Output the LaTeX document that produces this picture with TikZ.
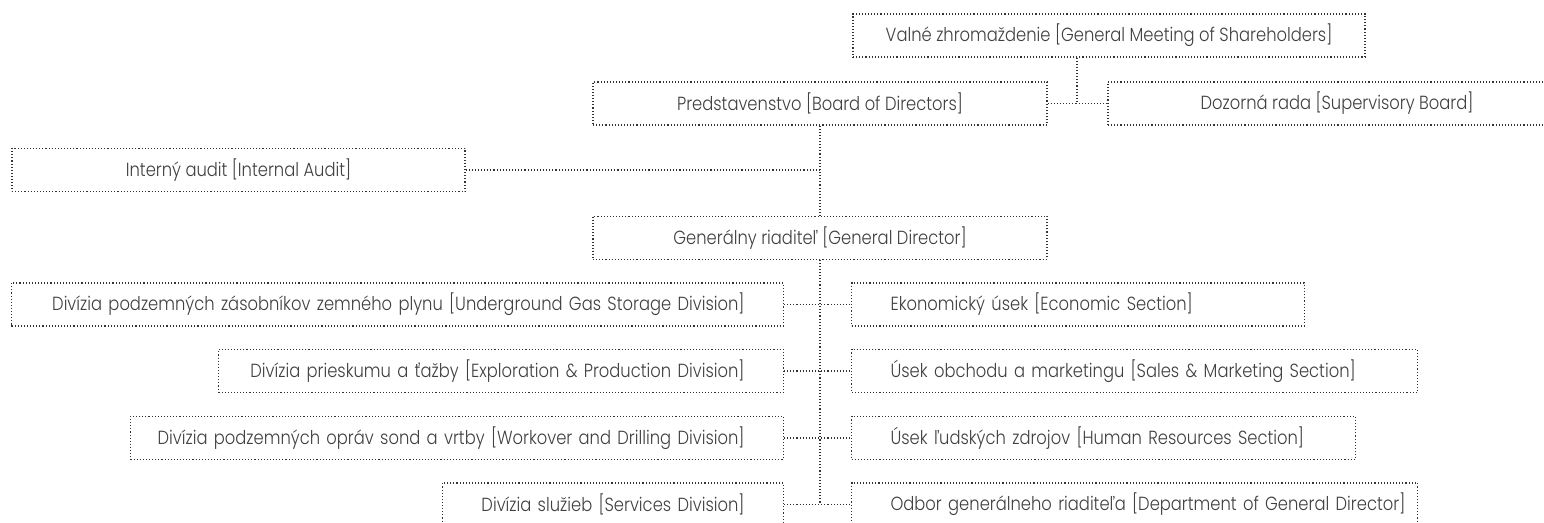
\documentclass[tikz,border=0pt]{standalone}
\usepackage{fontspec}
\setmainfont{Poppins Light}[FakeStretch=0.86]
\usetikzlibrary{positioning}

\begin{document}
\begin{tikzpicture}[
		x=0.5pt, y=-0.5pt,
		font=\fontsize{9.5}{11}\selectfont,
		box/.style={draw=black!80, text=black!75, line width=0.55pt,
			dash pattern=on 0.55pt off 1pt, minimum height=21.5pt,
			inner xsep=0pt, inner ysep=0pt},
		cbox/.style={box, minimum width=#1},
		lbox/.style={box, text width=#1, align=right, anchor=east,
			execute at end node={\hspace*{19.5pt}}},
		rbox/.style={box, text width=#1, align=left, anchor=west,
			execute at begin node={\hspace*{19.5pt}}},
		link/.style={draw=black!80, line width=0.55pt, dash pattern=on 0.55pt off 1pt}
	]
	\useasboundingbox (0,0) rectangle (1544,523);
	\clip (0,0) rectangle (1544,523);

	\node[cbox=256pt] (gm) at (1109,35.5) {Valné zhromaždenie [General Meeting of Shareholders]};
	\node[cbox=227pt] (board) at (820,103.5) {Predstavenstvo [Board of Directors]};
	\node[cbox=229pt] (sup) at (1337,103.5) {Dozorná rada [Supervisory Board]};
	\node[cbox=226.5pt] (audit) at (238.5,170) {Interný audit [Internal Audit]};
	\node[cbox=227pt, below=45pt of board] (gd) {Generálny riaditeľ [General Director]};

	\node[lbox=386pt] (gas) at (784,304.5) {Divízia podzemných zásobníkov zemného plynu [Underground Gas Storage Division]};
	\node[lbox=282.5pt] (expl) at (784,371) {Divízia prieskumu a ťažby [Exploration \& Production Division]};
	\node[lbox=326.5pt] (drill) at (784,438) {Divízia podzemných opráv sond a vrtby [Workover and Drilling Division]};
	\node[lbox=170.5pt] (serv) at (784,504.5) {Divízia služieb [Services Division]};

	\node[rbox=226.5pt] (econ) at (851,304.5) {Ekonomický úsek [Economic Section]};
	\node[rbox=283pt] (sales) at (851,371) {Úsek obchodu a marketingu [Sales \& Marketing Section]};
	\node[rbox=252pt] (hr) at (851,438) {Úsek ľudských zdrojov [Human Resources Section]};
	\node[rbox=283pt] (dept) at (851,504.5) {Odbor generálneho riaditeľa [Department of General Director]};

	\coordinate (gmjoin) at (1077,103.5);
	\draw[link] (board) -- (sup);
	\draw[link] (gm.south -| gmjoin) -- (gmjoin);
	\draw[link] (board) -- (gd);
	\draw[link] (audit) -- (audit -| board);
	\draw[link] (gd) -- (gd |- serv);
	\draw[link] (gas) -- (econ);
	\draw[link] (expl) -- (sales);
	\draw[link] (drill) -- (hr);
	\draw[link] (serv) -- (dept);
\end{tikzpicture}
\end{document}
